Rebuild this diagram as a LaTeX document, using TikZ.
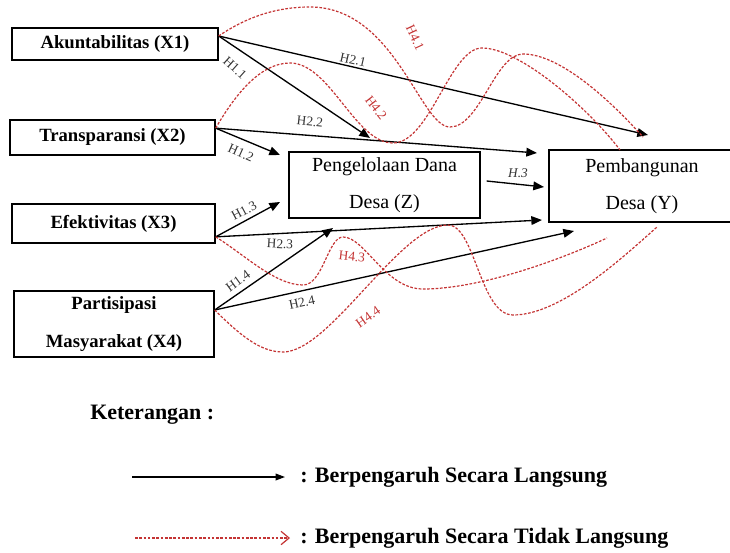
\documentclass[tikz,border=0pt]{standalone}
\usepackage{fontspec}
\setmainfont{Liberation Serif}
\usetikzlibrary{arrows.meta}
\definecolor{hred}{RGB}{196,52,52}

\begin{document}
\begin{tikzpicture}[x=0.75pt,y=-0.75pt,
    var/.style={draw,line width=1pt,inner sep=0pt,align=center},
    lsg/.style={line width=1pt,-{Triangle[length=8pt,width=6.5pt]}},
    tdk/.style={hred,dash pattern=on 2pt off 1.2pt,line width=0.9pt},
    hlab/.style={font=\fontsize{10}{12}\selectfont,text=black!80,inner sep=1pt},
    leg/.style={font=\bfseries\fontsize{16.5}{18}\selectfont,inner sep=0pt,anchor=west}]
    \useasboundingbox (0,0) rectangle (730,552);

    \node[var,minimum width=154.5pt,minimum height=24pt,font=\bfseries\fontsize{14}{16}\selectfont] (x1) at (115,44) {Akuntabilitas (X1)};
    \node[var,minimum width=153.75pt,minimum height=26.25pt,font=\bfseries\fontsize{14}{16}\selectfont] (x2) at (112.5,137.5) {Transparansi (X2)};
    \node[var,minimum width=152.25pt,minimum height=29.25pt,font=\bfseries\fontsize{14}{16}\selectfont] (x3) at (113.5,223.5) {Efektivitas (X3)};
    \node[var,minimum width=150pt,minimum height=49.5pt,font=\bfseries\fontsize{14}{28.5}\selectfont] (x4) at (114,324) {Partisipasi\\Masyarakat (X4)};
    \node[var,minimum width=143.25pt,minimum height=49.5pt,font=\fontsize{15}{28}\selectfont] (z) at (384.5,185) {Pengelolaan Dana\\Desa (Z)};
    \node[var,minimum width=139.5pt,minimum height=54pt,font=\fontsize{15}{28}\selectfont] (y) at (642,186) {Pembangunan\\Desa (Y)};

    \coordinate (s1) at ([yshift=6pt]x1.east);
    \coordinate (s2) at ([yshift=7pt]x2.east);
    \coordinate (s3) at ([yshift=-10pt]x3.east);
    \coordinate (s4) at ([yshift=10.5pt]x4.east);
    \coordinate (sz) at ([xshift=4.5pt,yshift=3pt]z.east);

    \coordinate (e11) at (370,138);
    \coordinate (e21) at (648,135);
    \coordinate (e12) at (280,155);
    \coordinate (e22) at (537,153);
    \coordinate (e13) at (280,202);
    \coordinate (e23) at (542,220);
    \coordinate (e14) at (333,228);
    \coordinate (e24) at (574,231);
    \coordinate (e3) at (544,187);
    \coordinate (e41) at (643,137);
    \coordinate (e42) at (620,150);
    \coordinate (e43) at (607,238);
    \coordinate (e44) at (657,227);

    \draw[lsg] (s1) -- (e11);
    \draw[lsg] (s1) -- (e21);
    \draw[lsg] (s2) -- (e12);
    \draw[lsg] (s2) -- (e22);
    \draw[lsg] (s3) -- (e13);
    \draw[lsg] (s3) -- (e23);
    \draw[lsg] (s4) -- (e14);
    \draw[lsg] (s4) -- (e24);
    \draw[lsg] (sz) -- (e3);

    \draw[tdk] (s1) .. controls (245,18) and (275,7) .. (310,7) .. controls (395,7) and (420,127) .. (450,127)
        .. controls (480,127) and (495,54) .. (523,54) .. controls (560,54) and (610,100) .. (e41);
    \draw[tdk] (s2) .. controls (235,95) and (260,63) .. (290,63) .. controls (330,63) and (355,143) .. (393,143)
        .. controls (430,143) and (450,48) .. (482,48) .. controls (520,48) and (590,110) .. (e42);
    \draw[tdk] (s3) .. controls (245,255) and (275,285) .. (303,285) .. controls (323,285) and (328,237) .. (343,237)
        .. controls (365,237) and (385,289) .. (423,289) .. controls (480,289) and (560,260) .. (e43);
    \draw[tdk] (s4) .. controls (240,335) and (260,352) .. (283,352) .. controls (330,352) and (400,225) .. (448,225)
        .. controls (475,225) and (480,315) .. (513,315) .. controls (560,315) and (620,260) .. (e44);

    \foreach \n/\t/\x/\y/\r in {h11/H1.1/235/68/-42, h21/H2.1/353/60/-13, h12/H1.2/241/153/-24,
        h22/H2.2/310/122/-6, h13/H1.3/244/211/28, h23/H2.3/280/244/-3, h14/H1.4/238/281/36, h24/H2.4/302/303/12}
        \node[hlab,rotate=\r] (\n) at (\x,\y) {\t};
    \node[hlab] (h3) at (518,173) {\textit{H.3}};
    \foreach \n/\t/\x/\y/\r in {h41/H4.1/415/38/-65, h42/H4.2/376/108/-52, h43/H4.3/352/257/-6, h44/H4.4/368/317/35}
        \node[hlab,text=hred,rotate=\r] (\n) at (\x,\y) {\t};

    \node[leg] (ket) at (90,415) {Keterangan :};
    \node[leg] (leg1) at (300,477) {: Berpengaruh Secara Langsung};
    \node[leg] (leg2) at (300,538) {: Berpengaruh Secara Tidak Langsung};
    \coordinate (l1a) at (132,477);
    \coordinate (l1b) at (285,477);
    \coordinate (l2a) at (135,538);
    \coordinate (l2b) at (290,538);
    \draw[line width=1pt,-{Triangle[length=7pt,width=5pt]}] (l1a) -- (l1b);
    \draw[tdk,-{Straight Barb[length=6pt,width=10pt,line width=0.9pt]}] (l2a) -- (l2b);
\end{tikzpicture}
\end{document}
